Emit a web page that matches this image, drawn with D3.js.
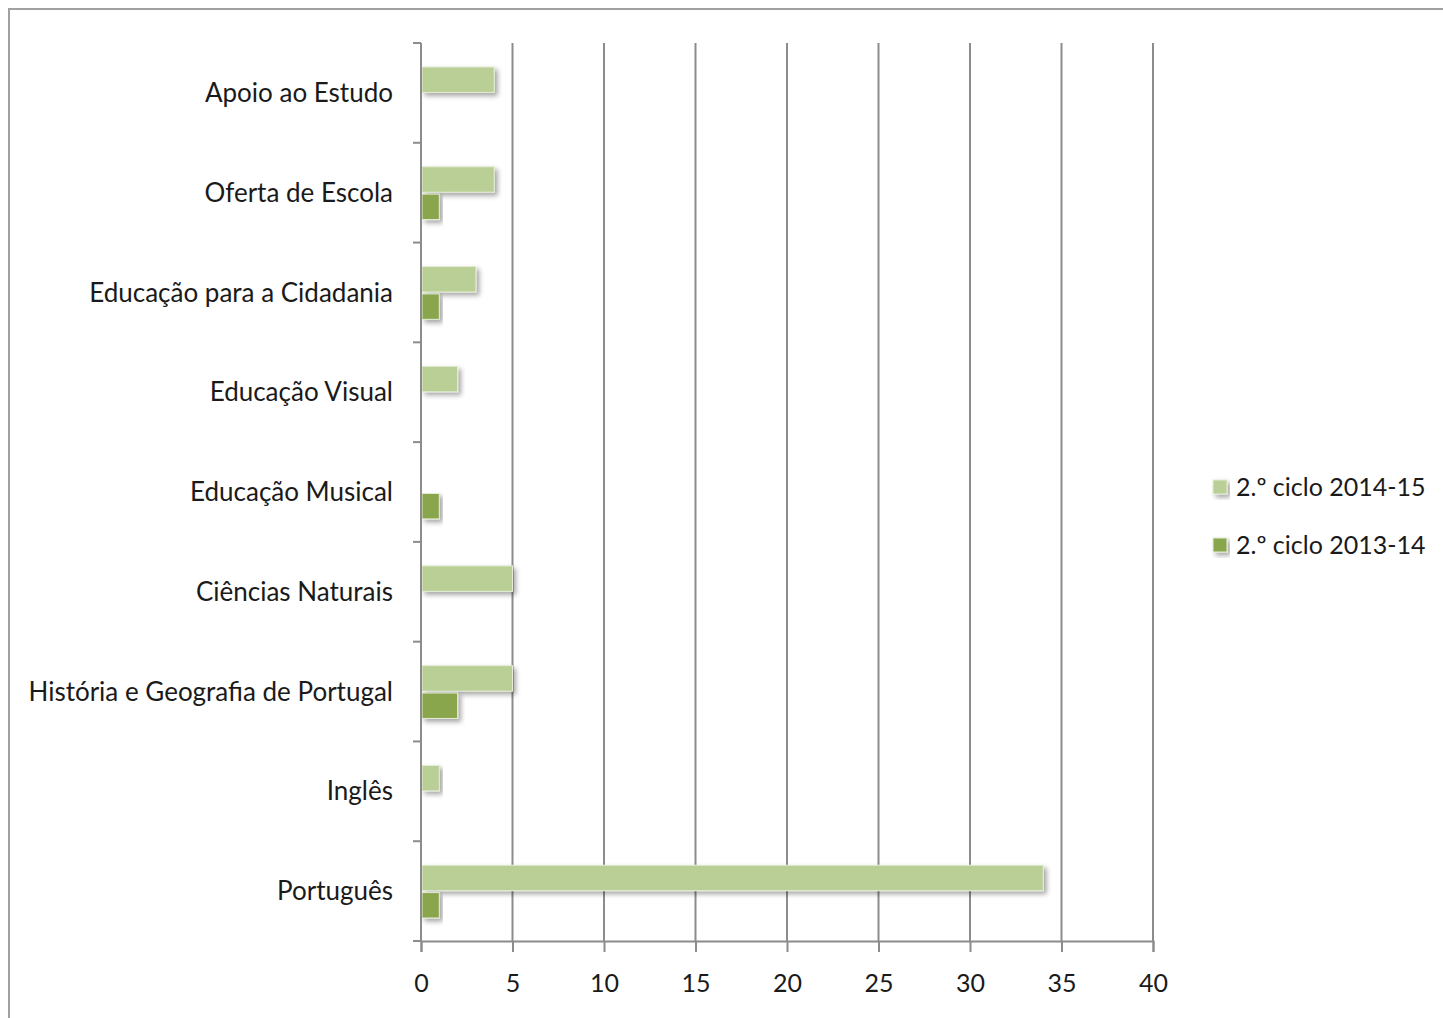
<!DOCTYPE html>
<html>
<head>
<meta charset="utf-8">
<script src="https://cdn.jsdelivr.net/npm/d3@7"></script>
<style>
  body { margin: 0; background: #fff; }
  text { font-family: Lato, "Open Sans", sans-serif; fill: #1a1a1a; }
</style>
</head>
<body>
<div id="chart"></div>
<script>
var categories = ["Apoio ao Estudo", "Oferta de Escola", "Educação para a Cidadania", "Educação Visual",
    "Educação Musical", "Ciências Naturais", "História e Geografia de Portugal", "Inglês", "Português"];
var seriesNames = ["2.º ciclo 2014-15", "2.º ciclo 2013-14"];
var values1415 = [4, 4, 3, 2, 0, 5, 5, 1, 34];
var values1314 = [0, 1, 1, 0, 1, 0, 2, 0, 1];
var xTicks = [0, 5, 10, 15, 20, 25, 30, 35, 40];
var colors = ["#b9cf95", "#8aa64e"];

var W = 1443, H = 1018;
var margin = { top: 43, right: 290, bottom: 77, left: 421 };
var width = 1153 - margin.left;
var height = 941 - margin.top;

var svg = d3.select("#chart").append("svg")
    .attr("width", W)
    .attr("height", H);

// drop shadow like the spreadsheet bars
var defs = svg.append("defs");
var f = defs.append("filter").attr("id", "shadow")
    .attr("x", "-10%").attr("y", "-20%").attr("width", "130%").attr("height", "160%");
f.append("feDropShadow")
    .attr("dx", 3).attr("dy", 3).attr("stdDeviation", 2.5)
    .attr("flood-color", "#000").attr("flood-opacity", 0.35);

// outer frame
svg.append("rect")
    .attr("x", 9).attr("y", 9)
    .attr("width", W + 20).attr("height", H + 20)
    .style("fill", "none")
    .style("stroke", "#a0a0a0")
    .style("stroke-width", 2);

var g = svg.append("g")
    .attr("transform", "translate(" + margin.left + "," + margin.top + ")");

var x = d3.scaleLinear().domain([0, 40]).range([0, width]);
var y0 = d3.scaleBand().domain(categories).range([0, height]);
var y1 = d3.scaleBand().domain(seriesNames)
    .range([24, y0.bandwidth() - 23])
    .paddingInner(0.07);

// vertical grid lines
g.selectAll(".grid").data(xTicks.slice(1)).enter().append("line")
    .attr("class", "grid")
    .attr("x1", function (d) { return x(d); })
    .attr("x2", function (d) { return x(d); })
    .attr("y1", 0).attr("y2", height)
    .style("stroke", "#8c8c8c")
    .style("stroke-width", 2);

// bars
var rows = categories.map(function (c, i) {
    return { cat: c, vals: [values1415[i], values1314[i]] };
});
var grp = g.selectAll(".cat").data(rows).enter().append("g")
    .attr("class", "cat")
    .attr("transform", function (d) { return "translate(0," + y0(d.cat) + ")"; });

grp.selectAll("rect").data(function (d) {
        return d.vals.map(function (v, j) { return { s: seriesNames[j], v: v, j: j }; })
            .filter(function (e) { return e.v > 0; });
    }).enter().append("rect")
    .attr("x", x(0) + 1)
    .attr("y", function (d) { return y1(d.s); })
    .attr("width", function (d) { return x(d.v) - x(0) - 1; })
    .attr("height", y1.bandwidth())
    .style("fill", function (d) { return colors[d.j]; })
    .style("stroke", "#e4ecd6")
    .style("stroke-width", 1)
    .attr("filter", "url(#shadow)");

// x axis
var xAxis = d3.axisBottom(x).tickValues(xTicks).tickSize(11).tickPadding(22);
var gX = g.append("g")
    .attr("transform", "translate(0," + height + ")")
    .call(xAxis);
gX.select(".domain").style("stroke", "#8c8c8c").style("stroke-width", 2);
gX.selectAll(".tick line").style("stroke", "#8c8c8c").style("stroke-width", 2);
gX.selectAll(".tick text").style("font-size", "25px").style("fill", "#1a1a1a");

// y axis: ticks on category boundaries
g.append("line")
    .attr("x1", 0).attr("x2", 0).attr("y1", 0).attr("y2", height)
    .style("stroke", "#8c8c8c").style("stroke-width", 2);
var bounds = categories.map(function (c) { return y0(c); }).concat([height]);
g.selectAll(".ytick").data(bounds).enter().append("line")
    .attr("class", "ytick")
    .attr("x1", -8).attr("x2", 0)
    .attr("y1", function (d) { return d; })
    .attr("y2", function (d) { return d; })
    .style("stroke", "#8c8c8c").style("stroke-width", 2);

g.selectAll(".ylab").data(categories).enter().append("text")
    .attr("class", "ylab")
    .attr("x", -28)
    .attr("y", function (d) { return y0(d) + y0.bandwidth() / 2; })
    .attr("dy", "0.35em")
    .attr("text-anchor", "end")
    .style("font-size", "26px")
    .text(function (d) { return d; });

// legend
var legend = svg.append("g").attr("transform", "translate(1213,480)");
var li = legend.selectAll("g").data(seriesNames).enter().append("g")
    .attr("transform", function (d, i) { return "translate(0," + (i * 58) + ")"; });
li.append("rect")
    .attr("width", 14).attr("height", 14)
    .style("fill", function (d, i) { return colors[i]; })
    .style("stroke", "#e4ecd6")
    .attr("filter", "url(#shadow)");
li.append("text")
    .attr("x", 23).attr("y", 7).attr("dy", "0.35em")
    .style("font-size", "25px")
    .text(function (d) { return d; });
</script>
</body>
</html>
